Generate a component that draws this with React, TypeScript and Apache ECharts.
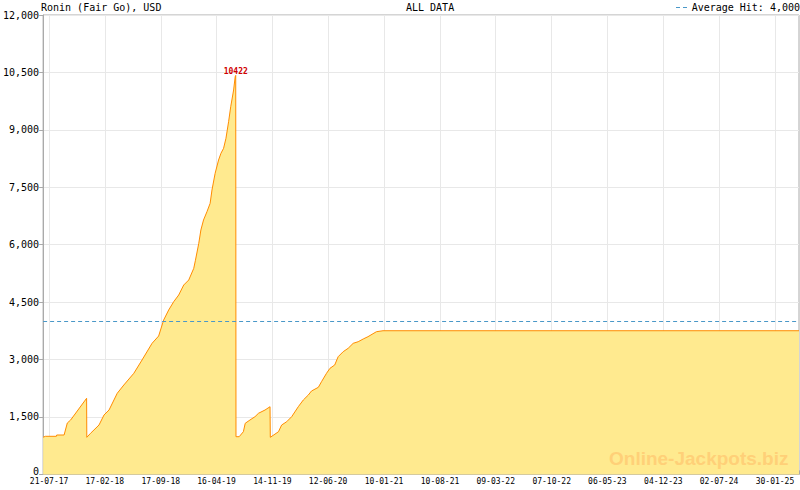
import React, { useEffect, useRef } from 'react';
import * as echarts from 'echarts';

// ---------- data ----------
const START_DATE = '2017-07-21';
const AXIS_START_DAY = -22.7;
const AXIS_END_DAY = 2841;

const TICK_DATES = [
  '2017-07-21', '2018-02-17', '2018-09-17', '2019-04-16', '2019-11-14',
  '2020-06-12', '2021-01-10', '2021-08-10', '2022-03-09', '2022-10-07',
  '2023-05-06', '2023-12-04', '2024-07-02', '2025-01-30',
];

// days since 2017-07-21
const JACKPOT_DAYS = [
  -22.7, -14, 27.6, 28.7, 56.7, 69, 81.6, 142, 142.8, 157, 189, 208, 227, 258, 283,
  321, 352, 390, 415, 434, 453, 472, 491, 510, 529, 548, 554, 567, 575, 585, 598,
  610, 617, 629, 642, 651, 661, 670, 680, 688, 699, 705, 707, 708, 720, 736, 743,
  761, 780, 793, 818, 837, 838, 869, 881, 900, 919, 944, 963, 982, 994, 1020, 1032,
  1051, 1064, 1082, 1095, 1114, 1133, 1152, 1171, 1190, 1208, 1240, 1265, 2841,
];
const JACKPOT_USD = [
  970, 995, 995, 1029, 1029, 1343, 1421, 1988, 969, 1074, 1290, 1552, 1682, 2118, 2335,
  2641, 2988, 3424, 3615, 4033, 4294, 4511, 4686, 4947, 5078, 5383, 5580, 6036, 6384, 6645, 6862,
  7081, 7429, 7865, 8212, 8387, 8518, 8779, 9213, 9604, 10041, 10388, 10422, 985, 985, 1115, 1335,
  1421, 1507, 1596, 1682, 1768, 969, 1115, 1290, 1376, 1507, 1768, 1943, 2074, 2178, 2275, 2421,
  2641, 2771, 2858, 3074, 3205, 3294, 3424, 3466, 3537, 3597, 3727, 3753, 3753,
];
const PEAK_DAY = 707;
const PEAK_VALUE = 10422;
const AVERAGE_HIT = 4000;
const Y_MIN = 0;
const Y_MAX = 12000;
const Y_STEP = 1500;

const TITLE = 'Ronin (Fair Go), USD';
const SUBTITLE = 'ALL DATA';
const LEGEND_TEXT = 'Average Hit: 4,000';
const WATERMARK = 'Online-Jackpots.biz';

// ---------- helpers ----------
const DAY_MS = 86400000;
const MONO = '"DejaVu Sans Mono", monospace';
const toTs = (s: string) => Date.parse(s + 'T00:00:00Z');
const startTs = toTs(START_DATE);
const dayTs = (d: number) => startTs + d * DAY_MS;
const pad = (n: number) => (n < 10 ? '0' + n : '' + n);
const fmtDate = (v: number) => {
  const d = new Date(Math.round(v / DAY_MS) * DAY_MS);
  return pad(d.getUTCDate()) + '-' + pad(d.getUTCMonth() + 1) + '-' + pad(d.getUTCFullYear() % 100);
};
const fmtNum = (v: number) => String(Math.round(v)).replace(/\B(?=(\d{3})+(?!\d))/g, ',');

const majorTicks = TICK_DATES.map(toTs);
const axisMin = dayTs(AXIS_START_DAY);
const axisMax = dayTs(AXIS_END_DAY);
const minorTicks: number[] = [];
for (let i = 0; i < majorTicks.length - 1; i++) {
  const a = majorTicks[i];
  const b = majorTicks[i + 1];
  for (let j = 1; j < 7; j++) minorTicks.push(a + ((b - a) * j) / 7);
}
{
  const step = (majorTicks[majorTicks.length - 1] - majorTicks[0]) / ((majorTicks.length - 1) * 7);
  let t = majorTicks[majorTicks.length - 1] + step;
  while (t <= axisMax) {
    minorTicks.push(t);
    t += step;
  }
}

export default function App() {
  const ref = useRef<HTMLDivElement>(null);
  useEffect(() => {
    document.body.style.margin = '0';
    if (!ref.current) return;
    const chart = echarts.init(ref.current, undefined, { renderer: 'svg' });
    const gray = '#aaaaaa';
    chart.setOption({
      animation: false,
      backgroundColor: '#ffffff',
      grid: {
        left: 40.5,
        right: 1,
        top: 15,
        bottom: 15.6,
        show: true,
        borderColor: gray,
        borderWidth: 1,
        backgroundColor: 'transparent',
      },
      xAxis: [
        {
          type: 'value',
          min: axisMin,
          max: axisMax,
          axisLine: { show: true, onZero: false, lineStyle: { color: gray } },
          axisTick: {
            show: true,
            inside: true,
            length: 6,
            customValues: majorTicks,
            lineStyle: { color: gray },
          },
          axisLabel: {
            show: true,
            customValues: majorTicks,
            formatter: (v: number) => fmtDate(v),
            fontFamily: MONO,
            fontSize: 8,
            lineHeight: 8,
            color: '#000',
            margin: 3,
            showMinLabel: true,
            showMaxLabel: true,
            hideOverlap: false,
          },
          splitLine: { show: true, lineStyle: { color: '#e8e8e8', width: 1 } },
        },
        {
          type: 'value',
          min: axisMin,
          max: axisMax,
          position: 'bottom',
          axisLine: { show: false },
          axisTick: {
            show: true,
            inside: true,
            length: 4,
            customValues: minorTicks,
            lineStyle: { color: gray },
          },
          axisLabel: { show: false },
          splitLine: { show: false },
        },
      ],
      yAxis: {
        type: 'value',
        min: Y_MIN,
        max: Y_MAX,
        interval: Y_STEP,
        axisLine: { show: true, lineStyle: { color: gray } },
        axisTick: { show: true, inside: false, length: 4, lineStyle: { color: gray } },
        axisLabel: {
          formatter: (v: number) => (v === 0 ? '{zero|0}' : fmtNum(v)),
          fontFamily: MONO,
          fontSize: 10,
          lineHeight: 10,
          color: '#000',
          margin: 4,
          rich: {
            zero: {
              fontFamily: MONO,
              fontSize: 10,
              lineHeight: 10,
              color: '#000',
              padding: [0, 0, 5, 0],
            },
          },
        },
        splitLine: { show: true, lineStyle: { color: '#e8e8e8', width: 1 } },
      },
      series: [
        {
          type: 'line',
          xAxisIndex: 0,
          data: JACKPOT_DAYS.map((d, i) => [dayTs(d), JACKPOT_USD[i]]),
          showSymbol: false,
          symbol: 'none',
          lineStyle: { color: '#ff8c00', width: 1 },
          areaStyle: { color: '#ffea8f', opacity: 1 },
          markLine: {
            silent: true,
            symbol: 'none',
            animation: false,
            label: { show: false },
            lineStyle: { color: '#4a98c8', type: [4, 3], width: 1 },
            data: [{ yAxis: AVERAGE_HIT }],
          },
          markPoint: {
            silent: true,
            animation: false,
            symbol: 'circle',
            symbolSize: 0,
            label: {
              show: true,
              position: 'top',
              distance: 0,
              formatter: String(PEAK_VALUE),
              color: '#d00000',
              fontFamily: MONO,
              fontSize: 8,
              fontWeight: 'bold',
            },
            data: [{ coord: [dayTs(PEAK_DAY), PEAK_VALUE], value: PEAK_VALUE }],
          },
        },
      ],
      graphic: [
        {
          type: 'text',
          x: 41,
          y: 7,
          style: { text: TITLE, fontFamily: MONO, fontSize: 10, fill: '#000', verticalAlign: 'middle' },
        },
        {
          type: 'text',
          x: 406,
          y: 7,
          style: { text: SUBTITLE, fontFamily: MONO, fontSize: 10, fill: '#000', verticalAlign: 'middle' },
        },
        {
          type: 'line',
          shape: { x1: 676, y1: 7.5, x2: 688, y2: 7.5 },
          style: { stroke: '#4a98c8', lineWidth: 1, lineDash: [4, 3] },
        },
        {
          type: 'text',
          x: 800,
          y: 7,
          style: {
            text: LEGEND_TEXT,
            fontFamily: MONO,
            fontSize: 10,
            fill: '#000',
            align: 'right',
            verticalAlign: 'middle',
          },
        },
        {
          type: 'text',
          x: 609,
          y: 458,
          z: 100,
          style: {
            text: WATERMARK,
            fontFamily: '"Liberation Sans", Arial, sans-serif',
            fontWeight: 'bold',
            fontSize: 19,
            fill: '#ffd078',
            verticalAlign: 'middle',
          },
        },
      ],
    });
    return () => chart.dispose();
  }, []);
  return (
    <div
      ref={ref}
      style={{ position: 'fixed', left: 0, top: 0, width: 800, height: 490 }}
    />
  );
}
